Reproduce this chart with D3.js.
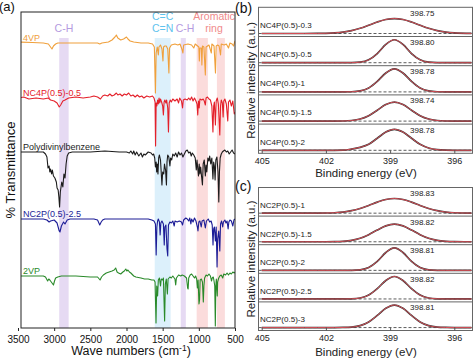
<!DOCTYPE html>
<html><head><meta charset="utf-8">
<script src="https://cdn.jsdelivr.net/npm/d3@7"></script>
<style>body{margin:0;background:#fff} svg{display:block;font-family:"Liberation Sans",Arial,sans-serif}</style>
</head><body><svg id="c" width="474" height="358"></svg>
<script>
// ---------------- DATA ----------------
const ftirNames = ["4VP", "NC4P(0.5)-0.5", "Polydivinylbenzene", "NC2P(0.5)-2.5", "2VP"];
const ftirOffsets = [285, 230, 176, 109, 52];
const ftirTicks = [3500, 3000, 2500, 2000, 1500, 1000, 500];

const ftir4VP = [[3500,1],[3300,0.5],[3150,0],[3080,-1],[3050,-4],[3030,-6],[3010,-3],[2980,-1],[2950,0],[2800,0],[2600,0],[2400,0],[2370,-1],[2340,0],[2250,1],[2200,3],[2160,6],[2140,8],[2120,5],[2080,3],[2040,4],[2000,6],[1980,4],[1950,2],[1900,1],[1800,0],[1700,0],[1640,-1],[1615,-4],[1600,-50],[1590,-10],[1575,-4],[1560,-12],[1552,-4],[1530,-2],[1510,-6],[1496,-18],[1488,-4],[1470,-3],[1450,-3],[1430,-6],[1414,-30],[1405,-5],[1380,-2],[1330,-1],[1290,-2],[1260,-1],[1230,-7],[1220,-10],[1210,-2],[1150,-1],[1100,-2],[1070,-5],[1050,-1],[1000,-4],[993,-18],[985,-5],[965,-5],[958,-22],[950,-3],[930,-4],[910,-32],[900,-4],[860,-2],[827,-10],[820,-1],[790,-3],[770,-30],[760,-3],[740,-2],[720,-3],[700,-12],[690,-1],[650,-2],[620,-1],[590,-5],[570,0],[540,-1],[520,-3],[500,2]];

const ftirNC4P = [[3500,0],[3420,1],[3350,-1],[3250,0],[3150,-1],[3080,0],[3050,-2],[3000,-3],[2960,-5],[2930,-9],[2910,-7],[2880,-3],[2850,-2],[2800,0],[2700,1],[2600,0],[2500,1],[2450,2],[2400,1],[2360,-1],[2330,2],[2300,3],[2260,2],[2230,4],[2200,2],[2170,3],[2140,5],[2120,3],[2090,4],[2060,2],[2030,4],[2000,3],[1970,5],[1940,2],[1910,3],[1880,1],[1850,3],[1820,1],[1790,2],[1760,0],[1720,2],[1680,1],[1640,2],[1620,0],[1605,-4],[1598,-48],[1590,-5],[1580,-8],[1570,-2],[1560,-6],[1550,0],[1540,-5],[1530,-1],[1515,-4],[1500,-8],[1490,-17],[1480,-4],[1470,-2],[1455,-5],[1445,-2],[1430,-10],[1420,-34],[1410,-5],[1395,-2],[1380,-4],[1360,-1],[1330,-3],[1300,-1],[1280,-5],[1265,0],[1240,-3],[1225,-10],[1215,-2],[1190,-1],[1160,-2],[1140,0],[1120,-2],[1100,1],[1080,-3],[1060,0],[1040,-3],[1025,-6],[1015,-17],[1005,-3],[995,-10],[985,-1],[960,-2],[940,-1],[925,-3],[910,-7],[900,0],[880,1],[860,-1],[840,-2],[820,-8],[805,-34],[795,-8],[785,-4],[771,-27],[760,-3],[745,0],[730,-6],[710,-37],[700,-8],[690,-2],[675,-5],[664,-19],[655,-3],[640,-1],[620,-6],[600,-23],[590,-4],[570,-2],[550,-8],[530,-3],[510,-16],[500,-14]];

const ftirPDVB = [[3500,0],[3300,0],[3150,0],[3120,-2],[3100,-5],[3085,-16],[3070,-14],[3060,-20],[3050,-17],[3035,-22],[3025,-18],[3010,-24],[2990,-26],[2970,-30],[2960,-36],[2945,-38],[2935,-45],[2925,-55],[2915,-40],[2895,-30],[2880,-35],[2865,-22],[2850,-26],[2835,-12],[2820,-4],[2800,-1],[2750,0],[2500,0],[2300,1],[2100,0],[2000,0],[1960,-1],[1940,1],[1915,-2],[1900,1],[1880,-3],[1860,0],[1830,-4],[1800,-1],[1780,-5],[1760,-2],[1740,-3],[1700,0],[1660,-1],[1640,-3],[1625,-2],[1610,-6],[1600,-15],[1590,-10],[1583,-20],[1575,-12],[1565,-22],[1555,-6],[1545,-3],[1530,-8],[1510,-33],[1500,-20],[1485,-22],[1475,-12],[1460,-18],[1448,-33],[1440,-10],[1430,-3],[1415,-5],[1400,-14],[1390,-6],[1375,-8],[1360,-2],[1340,-4],[1320,-1],[1300,-5],[1280,0],[1260,-3],[1240,-1],[1220,-5],[1200,-2],[1180,1],[1160,2],[1140,-1],[1120,0],[1105,-4],[1090,-1],[1070,-3],[1050,-6],[1035,-18],[1025,-8],[1018,-14],[1005,-24],[995,-12],[985,-22],[975,-15],[960,-26],[950,-33],[940,-12],[925,-8],[910,-24],[900,-13],[890,-20],[875,-6],[860,-9],[850,-4],[835,-12],[820,-6],[805,-27],[795,-10],[785,-14],[775,-28],[765,-8],[750,-5],[735,-20],[724,-50],[715,-20],[705,-6],[690,-2],[675,0],[660,1],[640,2],[620,0],[600,1],[580,-2],[560,0],[540,2],[520,-1],[500,-2]];

const ftirNC2P = [[3500,0],[3300,0],[3150,0],[3100,-1],[3070,-3],[3050,-2],[3000,-1],[2960,-4],[2930,-12],[2920,-13],[2900,-7],[2870,-3],[2850,-5],[2820,-1],[2780,0],[2600,0],[2450,0],[2400,-1],[2370,-6],[2350,-3],[2330,-1],[2300,0],[2000,0],[1800,0],[1700,0],[1650,-1],[1620,-2],[1600,-5],[1590,-36],[1580,-8],[1570,-2],[1560,0],[1545,-3],[1535,-16],[1525,-4],[1510,-2],[1490,-5],[1478,-26],[1470,-8],[1455,-6],[1440,-30],[1430,-37],[1420,-6],[1400,-3],[1380,-4],[1360,-2],[1340,-7],[1330,-2],[1300,-3],[1270,-2],[1240,-3],[1225,-6],[1210,-1],[1180,1],[1160,0],[1140,-2],[1125,1],[1110,-5],[1100,0],[1080,-3],[1060,1],[1040,-2],[1020,-8],[1012,-12],[1000,-3],[985,-2],[967,-8],[955,-2],[930,-1],[910,-9],[895,-2],[870,0],[850,-3],[830,-2],[815,-6],[804,-26],[795,-10],[785,-8],[771,-22],[760,-8],[748,-48],[740,-20],[725,-12],[710,-32],[700,-5],[685,-2],[670,-8],[660,-3],[640,-1],[625,-4],[610,-2],[595,-10],[585,-3],[570,-1],[550,-2],[530,-7],[515,-1],[500,0]];

const ftir2VP = [[3500,0],[3300,0],[3150,0],[3120,-1],[3090,-5],[3075,-3],[3060,-4],[3030,-7],[3010,-9],[2995,-5],[2980,-2],[2950,-1],[2900,0],[2700,0],[2500,-1],[2400,-1],[2365,-4],[2345,-1],[2320,1],[2280,3],[2240,4],[2200,5],[2170,6],[2150,8],[2130,4],[2110,3],[2080,2],[2050,4],[2030,5],[2010,7],[1995,5],[1980,6],[1960,4],[1940,3],[1900,0],[1870,-1],[1800,-2],[1750,-3],[1700,-3],[1650,-4],[1620,-4],[1605,-6],[1592,-47],[1582,-10],[1570,-20],[1560,-4],[1545,-2],[1530,-10],[1520,-3],[1500,-4],[1490,-2],[1473,-45],[1463,-8],[1450,-3],[1435,-18],[1425,-3],[1400,-1],[1380,-2],[1360,0],[1330,-3],[1320,-9],[1310,-2],[1280,1],[1250,0],[1230,1],[1200,0],[1170,-2],[1155,-12],[1148,-13],[1140,-2],[1120,1],[1100,2],[1080,0],[1060,-2],[1045,0],[1030,-3],[1020,-12],[1010,-4],[998,-28],[990,-24],[982,-4],[965,-3],[950,-6],[938,-26],[930,-10],[920,-2],[900,1],[880,0],[860,2],[840,0],[825,-5],[815,-2],[800,-1],[790,-5],[780,-10],[772,-50],[765,-10],[758,-3],[745,-20],[740,-6],[725,-2],[710,0],[690,1],[670,-2],[655,2],[630,1],[610,3],[590,1],[570,3],[550,2],[530,4],[510,3],[500,4]];

const ftirSeries = [ftir4VP, ftirNC4P, ftirPDVB, ftirNC2P, ftir2VP];

// shaded bands [from, to] in cm-1
const bandRanges = [[2930, 2800], [1610, 1390], [1250, 1180], [1030, 875], [750, 640]];
const bandKinds = ["ch", "cc", "ch", "ar", "ar"];
// annotations: [text line 1, text line 2], wavenumber centre, kind
const annotTexts = [["", "C-H"], ["C=C", "C=N"], ["", "C-H"], ["Aromatic", "ring"]];
const annotCentres = [2865, 1500, 1190, 790];
const annotKinds = ["ch", "cc", "ch", "ar"];

// XPS
const xpsEnergy = [405, 404, 403, 402.4, 402, 401.6, 401.2, 400.8, 400.4, 400, 399.6, 399.2, 398.8, 398.4, 398, 397.6, 397.2, 396.8, 396.4, 396, 395.2];
const xpsTicks = [405, 402, 399, 396];
const xpsBNames = ["NC4P(0.5)-0.3", "NC4P(0.5)-0.5", "NC4P(0.5)-1", "NC4P(0.5)-1.5", "NC4P(0.5)-2"];
const xpsBPeaks = ["398.75", "398.80", "398.78", "398.74", "398.78"];
const xpsB1 = [0,0,0,0.003,0.009,0.024,0.056,0.115,0.208,0.331,0.461,0.562,0.6,0.562,0.461,0.331,0.208,0.115,0.056,0.024,0.003];
const xpsB2 = [0,0,0,0,0,0,0,0.003,0.023,0.116,0.367,0.731,0.92,0.731,0.367,0.116,0.023,0.003,0,0,0];
const xpsB3 = [0,0,0,0,0,0,0.001,0.007,0.040,0.159,0.421,0.757,0.92,0.757,0.421,0.159,0.040,0.007,0.001,0,0];
const xpsB4 = [0,0,0,0,0,0.001,0.005,0.024,0.083,0.218,0.437,0.662,0.76,0.662,0.437,0.218,0.083,0.024,0.005,0.001,0];
const xpsB5 = [0,0,0,0,0,0.001,0.006,0.05,0.12,0.241,0.483,0.731,0.84,0.731,0.483,0.241,0.092,0.026,0.006,0.001,0];
const xpsCNames = ["NC2P(0.5)-1", "NC2P(0.5)-1.5", "NC2P(0.5)-2", "NC2P(0.5)-2.5", "NC2P(0.5)-3"];
const xpsCPeaks = ["398.83", "398.82", "398.81", "398.82", "398.81"];
const xpsC1 = [0,0,0,0.002,0.006,0.018,0.046,0.101,0.192,0.316,0.451,0.559,0.6,0.559,0.451,0.316,0.192,0.101,0.046,0.018,0.002];
const xpsC2 = [0,0,0,0,0.001,0.005,0.019,0.058,0.143,0.290,0.481,0.651,0.72,0.651,0.481,0.290,0.143,0.058,0.019,0.005,0];
const xpsC3 = [0,0,0,0,0,0,0,0.003,0.023,0.116,0.367,0.731,0.92,0.731,0.367,0.116,0.023,0.003,0,0,0];
const xpsC4 = [0,0,0,0,0,0,0.001,0.007,0.040,0.159,0.421,0.757,0.92,0.757,0.421,0.159,0.040,0.007,0.001,0,0];
const xpsC5 = [0,0,0,0,0,0,0.004,0.019,0.078,0.229,0.496,0.788,0.92,0.788,0.496,0.229,0.078,0.019,0.004,0,0];

// ---------------- STYLE ----------------
const ftirColors = ["#f0a03c", "#e4202a", "#1c1c1c", "#1c1c96", "#2a8a2a"];
const bandFill = {ch: "#e6daf3", cc: "#dcf0fb", ar: "#fbdcdc"};
const annotFill = {ch: "#b49ae0", cc: "#5ec3ee", ar: "#f08a8a"};

const svg = d3.select("#c");
const FONT = "'Liberation Sans', Arial, sans-serif";

// ---------------- PANEL (a) ----------------
const A = {l: 21, r: 235, t: 12, b: 328};
const xA = d3.scaleLinear().domain([3500, 500]).range([18, 235]);
const yA = d3.scaleLinear().domain([0, 316]).range([A.b, A.t]);

svg.append("defs").append("clipPath").attr("id", "clipA")
  .append("rect").attr("x", A.l).attr("y", A.t).attr("width", A.r - A.l).attr("height", A.b - A.t);

const gA = svg.append("g");
const gBands = gA.append("g").attr("clip-path", "url(#clipA)");
bandRanges.forEach((r, i) => {
  gBands.append("rect")
    .attr("x", xA(r[0])).attr("width", xA(r[1]) - xA(r[0]))
    .attr("y", 38).attr("height", A.b - 38)
    .attr("fill", bandFill[bandKinds[i]]);
});

annotTexts.forEach((t, i) => {
  const x = xA(annotCentres[i]);
  t.forEach((s, j) => {
    if (!s) return;
    gA.append("text").attr("x", x).attr("y", 20 + j * 12)
      .attr("text-anchor", "middle").attr("font-size", 10.5)
      .attr("fill", annotFill[annotKinds[i]]).text(s);
  });
});

const lineA = d3.line().x(d => xA(d[0])).y(d => yA(d[1]));
const gLines = gA.append("g").attr("clip-path", "url(#clipA)");
ftirSeries.forEach((s, i) => {
  gLines.append("path")
    .datum(s.map(d => [d[0], d[1] + ftirOffsets[i]]))
    .attr("d", lineA).attr("fill", "none")
    .attr("stroke", ftirColors[i]).attr("stroke-width", 1.1)
    .attr("stroke-linejoin", "round");
  gA.append("text").attr("x", 23).attr("y", yA(ftirOffsets[i]) - 2.5)
    .attr("font-size", 9).attr("fill", ftirColors[i]).text(ftirNames[i]);
});

// frame
gA.append("rect").attr("x", A.l).attr("y", A.t).attr("width", A.r - A.l).attr("height", A.b - A.t)
  .attr("fill", "none").attr("stroke", "#222").attr("stroke-width", 1);

const axA = gA.append("g").attr("transform", `translate(0,${A.b})`)
  .call(d3.axisBottom(xA).tickValues(ftirTicks).tickSize(3).tickFormat(d3.format("d")));
axA.select(".domain").remove();
axA.selectAll("text").attr("font-size", 10).attr("font-family", FONT).attr("fill", "#111").attr("dy", "0.9em");
axA.selectAll("line").attr("stroke", "#222");

gA.append("text").attr("x", 131).attr("y", 355).attr("text-anchor", "middle")
  .attr("font-size", 12.5).attr("fill", "#111")
  .call(t => {
    t.append("tspan").text("Wave numbers (cm");
    t.append("tspan").attr("dy", -4).attr("font-size", 8.5).text("-1");
    t.append("tspan").attr("dy", 4).text(")");
  });
gA.append("text").attr("transform", "translate(15,170) rotate(-90)")
  .attr("text-anchor", "middle").attr("font-size", 13).attr("fill", "#111").text("% Transmittance");
svg.append("text").attr("x", -1).attr("y", 10.5).attr("font-size", 13).attr("fill", "#111").text("(a)");

// ---------------- PANELS (b) & (c) ----------------
function xpsPanel(top, bottom, label, labelY, names, peaks, curves, titleY) {
  const L = 258.5, R = 472.5;
  const x = d3.scaleLinear().domain([405.15, 395.15]).range([L, R]);
  const h = (bottom - top) / names.length;
  const g = svg.append("g");
  names.forEach((n, i) => {
    const y0 = top + i * h;
    const y = d3.scaleLinear().domain([-0.12, 1.05]).range([y0 + h, y0]);
    g.append("line").attr("x1", L).attr("x2", R).attr("y1", y(0)).attr("y2", y(0))
      .attr("stroke", "#333").attr("stroke-width", 0.8).attr("stroke-dasharray", "3,2");
    const line = d3.line().x((d, k) => x(xpsEnergy[k])).y(d => y(d)).curve(d3.curveMonotoneX);
    g.append("path").datum(curves[i]).attr("d", line).attr("fill", "none")
      .attr("stroke", "#333").attr("stroke-width", 1.7);
    g.append("path").datum(curves[i]).attr("d", line).attr("fill", "none")
      .attr("stroke", "#e8515a").attr("stroke-width", 0.9);
    g.append("text").attr("x", 260).attr("y", y0 + 20.5).attr("font-size", 8)
      .attr("fill", "#222").text(n);
    g.append("text").attr("x", 410).attr("y", y0 + 8.5).attr("font-size", 8)
      .attr("fill", "#222").text(peaks[i]);
    if (i > 0) g.append("line").attr("x1", L).attr("x2", R).attr("y1", y0).attr("y2", y0)
      .attr("stroke", "#666").attr("stroke-width", 1);
  });
  g.append("rect").attr("x", L).attr("y", top).attr("width", R - L).attr("height", bottom - top)
    .attr("fill", "none").attr("stroke", "#666").attr("stroke-width", 1);
  const ax = g.append("g").attr("transform", `translate(0,${bottom})`)
    .call(d3.axisBottom(x).tickValues(xpsTicks).tickSize(-3).tickPadding(4).tickFormat(d3.format("d")));
  ax.select(".domain").remove();
  ax.selectAll("text").attr("font-size", 9).attr("font-family", FONT).attr("fill", "#222");
  ax.selectAll("line").attr("stroke", "#555");
  g.append("text").attr("x", 366).attr("y", titleY).attr("text-anchor", "middle")
    .attr("font-size", 11.5).attr("fill", "#222").text("Binding energy (eV)");
  g.append("text").attr("transform", `translate(255,${(top + bottom) / 2}) rotate(-90)`)
    .attr("text-anchor", "middle").attr("font-size", 11.5).attr("fill", "#222")
    .text("Relative intensity (a.u.)");
  svg.append("text").attr("x", 235).attr("y", labelY).attr("font-size", 14).attr("fill", "#111").text(label);
}

xpsPanel(7.3, 153.3, "(b)", 13, xpsBNames, xpsBPeaks, [xpsB1, xpsB2, xpsB3, xpsB4, xpsB5], 177);
xpsPanel(187.5, 330.5, "(c)", 191, xpsCNames, xpsCPeaks, [xpsC1, xpsC2, xpsC3, xpsC4, xpsC5], 355.5);
</script></body></html>
